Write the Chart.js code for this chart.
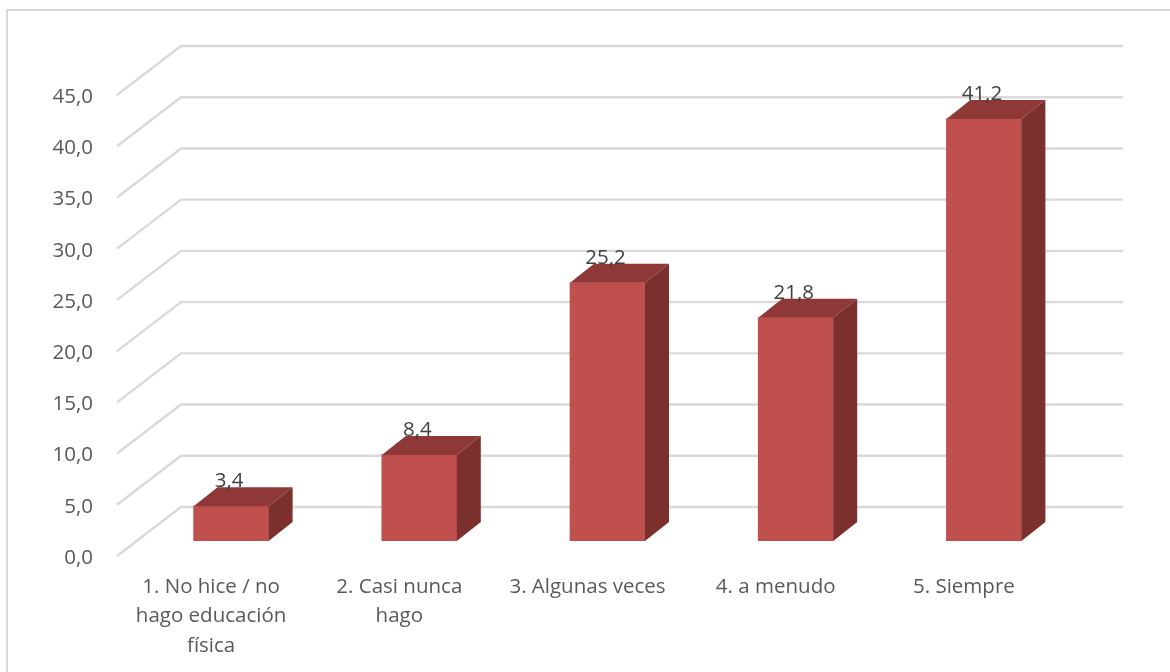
<!DOCTYPE html>
<html lang="es">
<head>
    <meta charset="UTF-8">
    <title>Educación física</title>
    <script src="https://cdn.jsdelivr.net/npm/chart.js"></script>
    <style>
        html, body { margin: 0; padding: 0; background: white; overflow: hidden; }
        .wrap { position: relative; width: 1170px; height: 672px; }
        .frame { position: absolute; left: 6px; top: 9px; width: 2000px; height: 2000px; border: 2px solid #d9d9d9; }
        canvas { position: absolute; left: 0; top: 0; }
    </style>
</head>
<body>
    <div class="wrap">
        <div class="frame"></div>
        <canvas id="chart" width="1170" height="672"></canvas>
    </div>

    <script>
        const categories = [
            ['1. No hice / no', 'hago educación', 'física'],
            ['2. Casi nunca', 'hago'],
            '3. Algunas veces',
            '4. a menudo',
            '5. Siempre'
        ];
        const values = [3.4, 8.4, 25.2, 21.8, 41.2];
        const yTicks = [0, 5, 10, 15, 20, 25, 30, 35, 40, 45];

        const fontName = '"Open Sans", sans-serif';
        const comma = v => v.toFixed(1).replace('.', ',');

        // the fake 3d box: depth of the bars, and of the floor/wall behind them
        const barDepth = { x: 24, y: 19 };
        const wall = { left: 117, back: 181, right: 1123, front: 15, rear: -34 };

        const wallPlugin = {
            id: 'wall',
            beforeDatasetsDraw(chart) {
                const ctx = chart.ctx;
                const y = chart.scales.y;
                ctx.save();
                ctx.strokeStyle = '#d9d9d9';
                ctx.lineWidth = 2.4;
                yTicks.forEach(t => {
                    const py = y.getPixelForValue(t);
                    ctx.beginPath();
                    ctx.moveTo(wall.left, py + wall.front);
                    ctx.lineTo(wall.back, py + wall.rear);
                    ctx.lineTo(wall.right, py + wall.rear);
                    ctx.stroke();
                });
                ctx.restore();
            }
        };

        const boxPlugin = {
            id: 'box',
            afterDatasetsDraw(chart) {
                const ctx = chart.ctx;
                ctx.save();
                chart.getDatasetMeta(0).data.forEach((bar, i) => {
                    const l = bar.x - bar.width / 2;
                    const r = bar.x + bar.width / 2;
                    // top face
                    ctx.fillStyle = '#8e3937';
                    ctx.beginPath();
                    ctx.moveTo(l, bar.y);
                    ctx.lineTo(l + barDepth.x, bar.y - barDepth.y);
                    ctx.lineTo(r + barDepth.x, bar.y - barDepth.y);
                    ctx.lineTo(r, bar.y);
                    ctx.closePath();
                    ctx.fill();
                    // side face
                    ctx.fillStyle = '#7b302e';
                    ctx.beginPath();
                    ctx.moveTo(r, bar.y);
                    ctx.lineTo(r + barDepth.x, bar.y - barDepth.y);
                    ctx.lineTo(r + barDepth.x, bar.base - barDepth.y);
                    ctx.lineTo(r, bar.base);
                    ctx.closePath();
                    ctx.fill();
                    // value label sits over the top face
                    ctx.fillStyle = '#404040';
                    ctx.font = '20.5px ' + fontName;
                    ctx.textAlign = 'center';
                    ctx.textBaseline = 'middle';
                    ctx.fillText(comma(values[i]), bar.x - 2, bar.y - 25);
                });
                ctx.restore();
            }
        };

        new Chart(document.getElementById('chart').getContext('2d'), {
            type: 'bar',
            data: {
                labels: categories,
                datasets: [{ data: values, backgroundColor: '#c0504d', barThickness: 75 }]
            },
            plugins: [wallPlugin, boxPlugin],
            options: {
                responsive: false,
                animation: false,
                layout: { padding: { top: 80, right: 92, left: 0, bottom: 0 } },
                plugins: { legend: { display: false }, tooltip: { enabled: false } },
                scales: {
                    x: {
                        grid: { display: false },
                        border: { display: false },
                        afterFit: s => { s.height = 131; },
                        ticks: {
                            color: '#595959',
                            font: { family: fontName, size: 20.5, lineHeight: 1.45 },
                            padding: 23,
                            labelOffset: -20,
                            maxRotation: 0,
                            autoSkip: false
                        }
                    },
                    y: {
                        min: 0,
                        max: 45,
                        grid: { display: false },
                        border: { display: false },
                        afterFit: s => { s.width = 137; },
                        afterBuildTicks: s => { s.ticks = yTicks.map(v => ({ value: v })); },
                        ticks: {
                            color: '#595959',
                            font: { family: fontName, size: 20.5 },
                            padding: 36,
                            labelOffset: 17,
                            callback: v => comma(v)
                        }
                    }
                }
            }
        });
    </script>
</body>
</html>
